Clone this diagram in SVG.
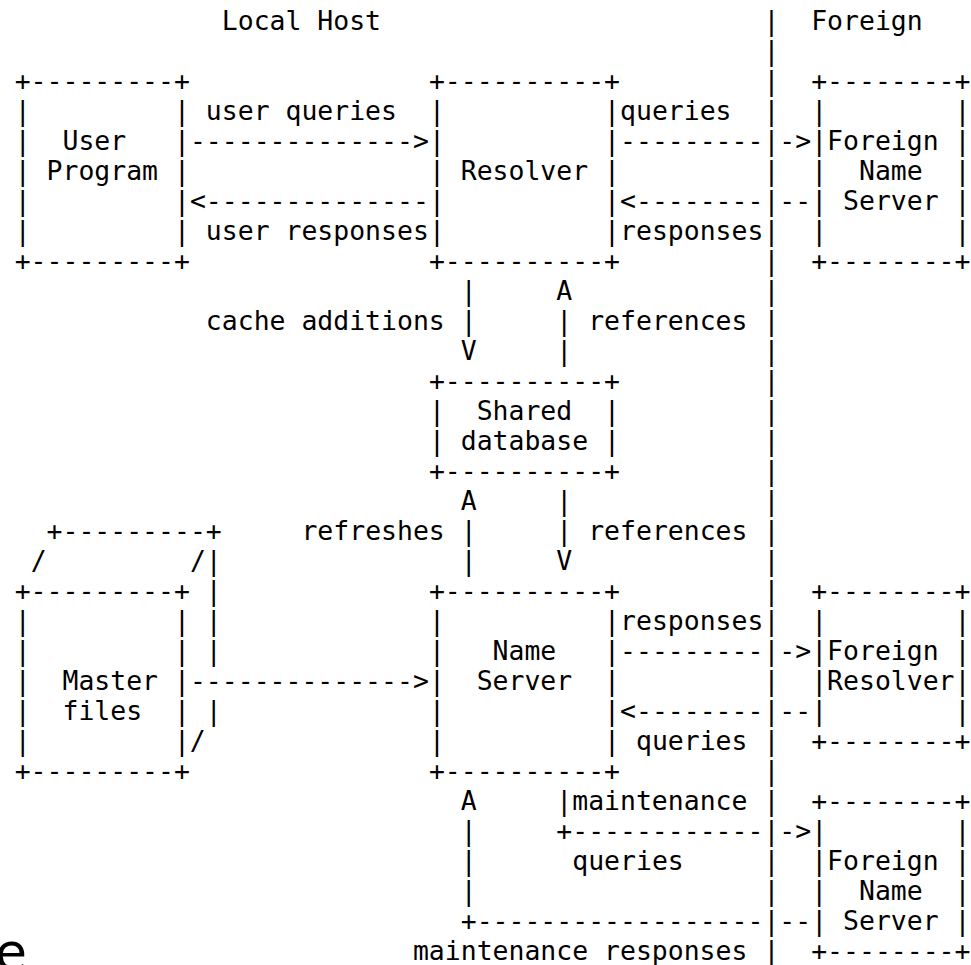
<svg xmlns="http://www.w3.org/2000/svg" width="971" height="965" viewBox="0 0 971 965" xml:space="preserve">
<style>
text{font-family:"DejaVu Sans Mono",monospace;font-size:26.46px;fill:#000;white-space:pre}
.big{font-family:"DejaVu Sans",sans-serif;font-size:52px}
</style>
<rect width="971" height="965" fill="#fff"/>
<g id="titles">
<text x="221.79" y="29.5">Local Host</text>
<text x="811.20" y="29.5">Foreign</text>
</g>
<g id="boundary">
<text><tspan x="763.41" y="29.5">|</tspan><tspan x="763.41" y="59.5">|</tspan><tspan x="763.41" y="89.5">|</tspan><tspan x="763.41" y="119.5">|</tspan><tspan x="763.41" y="149.5">|</tspan><tspan x="763.41" y="179.5">|</tspan><tspan x="763.41" y="209.5">|</tspan><tspan x="763.41" y="239.5">|</tspan><tspan x="763.41" y="269.5">|</tspan><tspan x="763.41" y="299.5">|</tspan><tspan x="763.41" y="329.5">|</tspan><tspan x="763.41" y="359.5">|</tspan><tspan x="763.41" y="389.5">|</tspan><tspan x="763.41" y="419.5">|</tspan><tspan x="763.41" y="449.5">|</tspan><tspan x="763.41" y="479.5">|</tspan><tspan x="763.41" y="509.5">|</tspan><tspan x="763.41" y="539.5">|</tspan><tspan x="763.41" y="569.5">|</tspan><tspan x="763.41" y="599.5">|</tspan><tspan x="763.41" y="629.5">|</tspan><tspan x="763.41" y="659.5">|</tspan><tspan x="763.41" y="689.5">|</tspan><tspan x="763.41" y="719.5">|</tspan><tspan x="763.41" y="749.5">|</tspan><tspan x="763.41" y="779.5">|</tspan><tspan x="763.41" y="809.5">|</tspan><tspan x="763.41" y="839.5">|</tspan><tspan x="763.41" y="869.5">|</tspan><tspan x="763.41" y="899.5">|</tspan><tspan x="763.41" y="929.5">|</tspan><tspan x="763.41" y="959.5">|</tspan></text>
</g>
<g id="user-program">
<text><tspan x="14.70" y="89.5">+---------+</tspan><tspan x="14.70" y="119.5">|         |</tspan><tspan x="14.70" y="149.5">|  User   |</tspan><tspan x="14.70" y="179.5">| Program |</tspan><tspan x="14.70" y="209.5">|         |</tspan><tspan x="14.70" y="239.5">|         |</tspan><tspan x="14.70" y="269.5">+---------+</tspan></text>
</g>
<g id="resolver">
<text><tspan x="428.88" y="89.5">+----------+</tspan><tspan x="428.88" y="119.5">|          |</tspan><tspan x="428.88" y="149.5">|          |</tspan><tspan x="428.88" y="179.5">| Resolver |</tspan><tspan x="428.88" y="209.5">|          |</tspan><tspan x="428.88" y="239.5">|          |</tspan><tspan x="428.88" y="269.5">+----------+</tspan></text>
</g>
<g id="foreign-name-server-1">
<text><tspan x="811.20" y="89.5">+--------+</tspan><tspan x="811.20" y="119.5">|        |</tspan><tspan x="811.20" y="149.5">|Foreign |</tspan><tspan x="811.20" y="179.5">|  Name  |</tspan><tspan x="811.20" y="209.5">| Server |</tspan><tspan x="811.20" y="239.5">|        |</tspan><tspan x="811.20" y="269.5">+--------+</tspan></text>
</g>
<g id="shared-database">
<text><tspan x="428.88" y="389.5">+----------+</tspan><tspan x="428.88" y="419.5">|  Shared  |</tspan><tspan x="428.88" y="449.5">| database |</tspan><tspan x="428.88" y="479.5">+----------+</tspan></text>
</g>
<g id="master-files">
<text><tspan x="46.56" y="539.5">+---------+</tspan><tspan x="30.63" y="569.5">/         /|</tspan><tspan x="14.70" y="599.5">+---------+ |</tspan><tspan x="14.70" y="629.5">|         | |</tspan><tspan x="14.70" y="659.5">|         | |</tspan><tspan x="14.70" y="689.5">|  Master |</tspan><tspan x="14.70" y="719.5">|  files  | |</tspan><tspan x="14.70" y="749.5">|         |/</tspan><tspan x="14.70" y="779.5">+---------+</tspan></text>
</g>
<g id="name-server">
<text><tspan x="428.88" y="599.5">+----------+</tspan><tspan x="428.88" y="629.5">|          |</tspan><tspan x="428.88" y="659.5">|   Name   |</tspan><tspan x="428.88" y="689.5">|  Server  |</tspan><tspan x="428.88" y="719.5">|          |</tspan><tspan x="428.88" y="749.5">|          |</tspan><tspan x="428.88" y="779.5">+----------+</tspan></text>
</g>
<g id="foreign-resolver">
<text><tspan x="811.20" y="599.5">+--------+</tspan><tspan x="811.20" y="629.5">|        |</tspan><tspan x="811.20" y="659.5">|Foreign |</tspan><tspan x="811.20" y="689.5">|Resolver|</tspan><tspan x="811.20" y="719.5">|        |</tspan><tspan x="811.20" y="749.5">+--------+</tspan></text>
</g>
<g id="foreign-name-server-2">
<text><tspan x="811.20" y="809.5">+--------+</tspan><tspan x="811.20" y="839.5">|        |</tspan><tspan x="811.20" y="869.5">|Foreign |</tspan><tspan x="811.20" y="899.5">|  Name  |</tspan><tspan x="811.20" y="929.5">| Server |</tspan><tspan x="811.20" y="959.5">+--------+</tspan></text>
</g>
<g id="connectors">
<text x="205.86" y="119.5">user queries</text>
<text x="189.93" y="149.5">--------------&gt;</text>
<text x="189.93" y="209.5">&lt;--------------</text>
<text x="205.86" y="239.5">user responses</text>
<text x="620.04" y="119.5">queries</text>
<text x="620.04" y="149.5">---------</text>
<text x="779.34" y="149.5">-&gt;</text>
<text x="620.04" y="209.5">&lt;--------</text>
<text x="779.34" y="209.5">--</text>
<text x="620.04" y="239.5">responses</text>
<text x="460.74" y="299.5">|</text>
<text x="556.32" y="299.5">A</text>
<text x="205.86" y="329.5">cache additions</text>
<text x="460.74" y="329.5">|</text>
<text x="556.32" y="329.5">|</text>
<text x="588.18" y="329.5">references</text>
<text x="460.74" y="359.5">V</text>
<text x="556.32" y="359.5">|</text>
<text x="460.74" y="509.5">A</text>
<text x="556.32" y="509.5">|</text>
<text x="301.44" y="539.5">refreshes</text>
<text x="460.74" y="539.5">|</text>
<text x="556.32" y="539.5">|</text>
<text x="588.18" y="539.5">references</text>
<text x="460.74" y="569.5">|</text>
<text x="556.32" y="569.5">V</text>
<text x="189.93" y="689.5">--------------&gt;</text>
<text x="620.04" y="629.5">responses</text>
<text x="620.04" y="659.5">---------</text>
<text x="779.34" y="659.5">-&gt;</text>
<text x="620.04" y="719.5">&lt;--------</text>
<text x="779.34" y="719.5">--</text>
<text x="635.97" y="749.5">queries</text>
<text x="460.74" y="809.5">A</text>
<text x="556.32" y="809.5">|maintenance</text>
<text x="460.74" y="839.5">|</text>
<text x="556.32" y="839.5">+------------</text>
<text x="779.34" y="839.5">-&gt;</text>
<text x="460.74" y="869.5">|</text>
<text x="572.25" y="869.5">queries</text>
<text x="460.74" y="899.5">|</text>
<text x="460.74" y="929.5">+------------------</text>
<text x="779.34" y="929.5">--</text>
<text x="412.95" y="959.5">maintenance responses</text>
</g>
<text class="big" x="-5" y="970">e</text>
</svg>
